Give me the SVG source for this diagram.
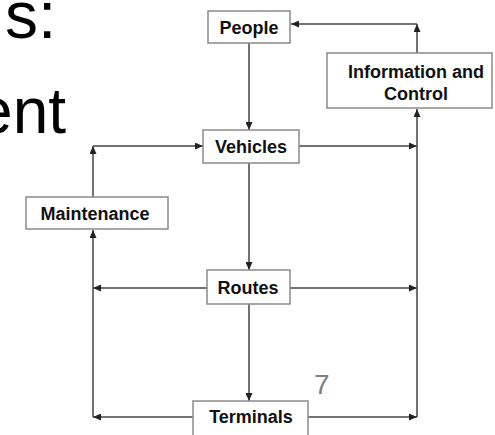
<svg xmlns="http://www.w3.org/2000/svg" width="495" height="435" viewBox="0 0 495 435">
<style>
.box{fill:#fff;stroke:#8a8a8a;stroke-width:1.5}
.lbl{font-family:"Liberation Sans",Arial,sans-serif;font-weight:bold;font-size:18px;fill:#111;text-anchor:middle}
.big{font-family:"Liberation Sans",Arial,sans-serif;font-size:64px;fill:#000}
.ln{fill:none;stroke:#444;stroke-width:1.5}
.ln{marker-end:url(#ah)}
</style>
<defs>
<marker id="ah" markerUnits="userSpaceOnUse" markerWidth="8" markerHeight="7" refX="8" refY="3.5" orient="auto">
<path d="M0,0 L8,3.5 L0,7 z" fill="#222"/>
</marker>
</defs>
<rect width="495" height="435" fill="#fff"/>
<text class="big" x="5" y="38" style="font-size:66px">s:</text>
<text class="big" x="66" y="133" text-anchor="end">ent</text>
<text x="314" y="394" font-family="Liberation Sans,Arial,sans-serif" font-size="28" fill="#808080">7</text>
<g id="connectors">
<path class="ln" d="M417,53 V24"/>
<path class="ln" d="M417,24 H291"/>
<path class="ln" d="M249,43 V130"/>
<path class="ln" d="M299,146 H417"/>
<path class="ln" d="M417,417 V109"/>
<path class="ln" d="M93,197 V146"/>
<path class="ln" d="M93,146 H203"/>
<path class="ln" d="M249,163 V270"/>
<path class="ln" d="M207,288 H93"/>
<path class="ln" d="M290,288 H417"/>
<path class="ln" d="M93,417 V230"/>
<path class="ln" d="M249,304 V401"/>
<path class="ln" d="M193,417 H93"/>
<path class="ln" d="M308,417 H417"/>
</g>
<g id="people"><rect class="box" x="208" y="11" width="82" height="32"/><text class="lbl" x="249" y="33.5">People</text></g>
<g id="info"><rect class="box" x="327" y="53" width="165" height="55"/><text class="lbl" x="416" y="78">Information and</text><text class="lbl" x="416" y="100">Control</text></g>
<g id="vehicles"><rect class="box" x="203" y="130" width="96" height="33"/><text class="lbl" x="251" y="153">Vehicles</text></g>
<g id="maintenance"><rect class="box" x="26" y="197" width="142" height="32"/><text class="lbl" x="95" y="220">Maintenance</text></g>
<g id="routes"><rect class="box" x="207" y="270" width="83" height="34"/><text class="lbl" x="248" y="294">Routes</text></g>
<g id="terminals"><rect class="box" x="193" y="401" width="115" height="40"/><text class="lbl" x="251" y="423">Terminals</text></g>
</svg>
